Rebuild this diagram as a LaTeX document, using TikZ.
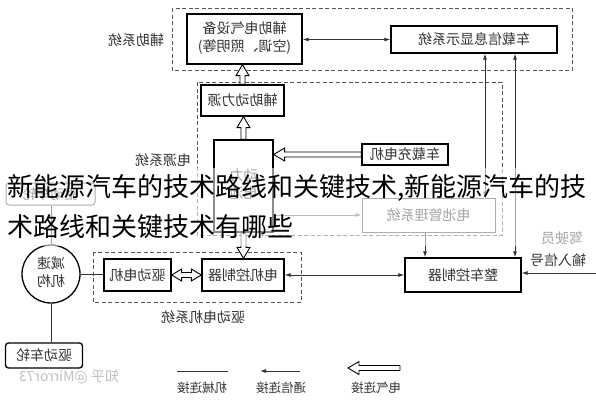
\documentclass[tikz,border=0pt]{standalone}
\usepackage{fontspec}
\usepackage{graphicx}
\setmainfont{Noto Sans CJK SC}
\usetikzlibrary{arrows.meta,calc}
\definecolor{txt}{HTML}{333333}
\definecolor{grp}{HTML}{555555}
\newcommand{\mr}[1]{\reflectbox{#1}}
\newcommand{\mrt}[1]{\reflectbox{\begin{tabular}{@{}c@{}}#1\end{tabular}}}
\newcommand{\fsbox}{\fontsize{14}{18}\selectfont}
\newcommand{\fsleg}{\fontsize{12.5}{15}\selectfont}
\newcommand{\fsov}{\fontsize{26}{31}\selectfont}
\tikzset{
  blk/.style={draw=black, line width=1.3pt, inner sep=0pt, text=txt, font=\fsbox},
  grpbox/.style={draw=grp, line width=0.9pt, dash pattern=on 4pt off 2.5pt},
  lbl/.style={inner sep=0pt, text=txt, font=\fsbox},
  comm/.style={draw=txt, line width=0.9pt, -{Latex[length=6pt,width=4pt]}},
  commb/.style={draw=txt, line width=0.9pt, {Latex[length=6pt,width=4pt]}-{Latex[length=6pt,width=4pt]}},
  mech/.style={draw=txt, line width=1pt},
  elec/.style={draw=black, line width=0.9pt, fill=white, to path={
    coordinate (eS) at (\tikztostart) coordinate (eT) at (\tikztotarget)
    coordinate (eB) at ($(\tikztotarget)!11pt!(\tikztostart)$)
    ($(eS)!2.5pt!90:(eT)$) -- ($(eB)!2.5pt!90:(eT)$) -- ($(eB)!6.5pt!90:(eT)$) -- (eT)
    -- ($(eB)!6.5pt!-90:(eT)$) -- ($(eB)!2.5pt!-90:(eT)$) -- ($(eS)!2.5pt!-90:(eT)$) -- cycle}},
  elecb/.style={draw=black, line width=0.9pt, fill=white, to path={
    coordinate (eS) at (\tikztostart) coordinate (eT) at (\tikztotarget)
    coordinate (eA) at ($(\tikztostart)!10pt!(\tikztotarget)$)
    coordinate (eB) at ($(\tikztotarget)!10pt!(\tikztostart)$)
    (eS) -- ($(eA)!6pt!90:(eT)$) -- ($(eA)!2.5pt!90:(eT)$) -- ($(eB)!2.5pt!90:(eT)$) -- ($(eB)!6pt!90:(eT)$) -- (eT)
    -- ($(eB)!6pt!-90:(eT)$) -- ($(eB)!2.5pt!-90:(eT)$) -- ($(eA)!2.5pt!-90:(eT)$) -- ($(eA)!6pt!-90:(eT)$) -- cycle}}
}
\begin{document}
\begin{tikzpicture}[x=1pt,y=-1pt]
\useasboundingbox (0,0) rectangle (596,400);
% group frames
\draw[grpbox] (172,8) rectangle (572,70);
\draw[grpbox] (197,82) rectangle (502,235);
\draw[grpbox] (93,252) rectangle (301,302);
% group labels
\node[lbl] (lauxs) at (136,40) {\mr{辅助系统}};
\node[lbl] (lpows) at (163,160) {\mr{电源系统}};
\node[lbl] (lmots) at (203,317) {\mr{驱动电机系统}};
\node[lbl] (ldrv1) at (562,238) {\mr{驾驶员}};
\node[lbl] (ldrv2) at (558,260) {\mr{输入信号}};
% boxes
\node[blk, minimum width=115pt, minimum height=50pt] (auxel) at (244.5,39) {\mrt{辅助电气设备\\(空调、照明等)}};
\node[blk, minimum width=166pt, minimum height=27pt] (disp) at (474,39.5) {\mr{车载信息显示系统}};
\node[blk, minimum width=83pt, minimum height=31pt] (auxpow) at (242.5,100.5) {\mr{辅助动力源}};
\node[blk, minimum width=59pt, minimum height=92pt] (batt) at (243.5,186) {\mrt{动力\\电池}};
\node[blk, minimum width=86pt, minimum height=21pt] (charger) at (405,154.5) {\mr{车载充电机}};
\node[blk, draw=black!70, line width=1pt, minimum width=133pt, minimum height=34pt] (bms) at (428.5,215) {\mr{电池管理系统}};
\node[blk, minimum width=116pt, minimum height=34pt] (vcu) at (463,275) {\mr{整车控制器}};
\node[blk, minimum width=82pt, minimum height=32pt] (mc) at (243,275) {\mr{电机控制器}};
\node[blk, minimum width=67pt, minimum height=32pt] (motor) at (137.5,275) {\mr{驱动电机}};
\node[blk, circle, minimum size=58pt] (circ) at (51,274) {\mrt{减速\\机构}};
\node[blk, draw=black!70, line width=1pt, rounded corners=3pt, minimum width=89pt, minimum height=22pt] (topw) at (50.5,194) {\mr{驱动车轮}};
\node[blk, rounded corners=3pt, minimum width=77pt, minimum height=25pt] (wheel) at (44,355.5) {\mr{驱动车轮}};
% connectors
\coordinate (xa) at (485,0);
\coordinate (xb) at (515,0);
\coordinate (drv) at (596,273);
\draw[commb] (disp.west) -- (disp.west -| auxel.east);
\draw[elec] (auxpow.north) to (auxpow.north |- auxel.south);
\draw[elec] (batt.north) to (batt.north |- auxpow.south);
\draw[elec] (charger.west) to (charger.west -| batt.east);
\draw[comm, draw=txt!70] (bms.west -| batt.east) -- (bms.west);
\draw[comm] ([xshift=-3.5pt]bms.south) -- ([xshift=-3.5pt]bms.south |- vcu.north);
\draw[commb] (xa |- disp.south) -- (xa |- bms.north);
\draw[commb] (xb |- disp.south) -- (xb |- vcu.north);
\draw[elec] (batt.south) to (batt.south |- mc.north);
\draw[commb] (mc.east) -- (vcu.west);
\draw[comm] (drv) -- (drv -| vcu.east);
\draw[elecb] (motor.east) to (mc.west);
\draw[mech] (circ.east) -- (circ.east -| motor.west);
\draw[mech] (circ.north) -- (circ.north |- topw.south);
\draw[mech] (circ.south) -- (circ.south |- wheel.north);
% legend
\coordinate (le1) at (400,368);
\coordinate (le2) at (348,368);
\coordinate (lc1) at (300,371);
\coordinate (lc2) at (260,371);
\coordinate (lm1) at (177,371);
\coordinate (lm2) at (228,371);
\draw[elec] (le1) to (le2);
\draw[comm] (lc1) -- (lc2);
\draw[mech] (lm1) -- (lm2);
\node[lbl, font=\fsleg] (lel) at (376,388) {\mr{电气连接}};
\node[lbl, font=\fsleg] (lcl) at (281,388) {\mr{通信连接}};
\node[lbl, font=\fsleg] (lml) at (202,388) {\mr{机械连接}};
\node[lbl, text=black!25] (wm) at (69,377) {\mr{知乎 @Mirror73}};
% fade band and overlay title
\fill[white, opacity=0.55] (0,168) rectangle (596,246);
\node[anchor=west, inner sep=0pt, font=\fsov, text=black] (ov1) at (7,188) {新能源汽车的技术路线和关键技术,新能源汽车的技};
\node[anchor=west, inner sep=0pt, font=\fsov, text=black] (ov2) at (7,227) {术路线和关键技术有哪些};
\end{tikzpicture}
\end{document}
